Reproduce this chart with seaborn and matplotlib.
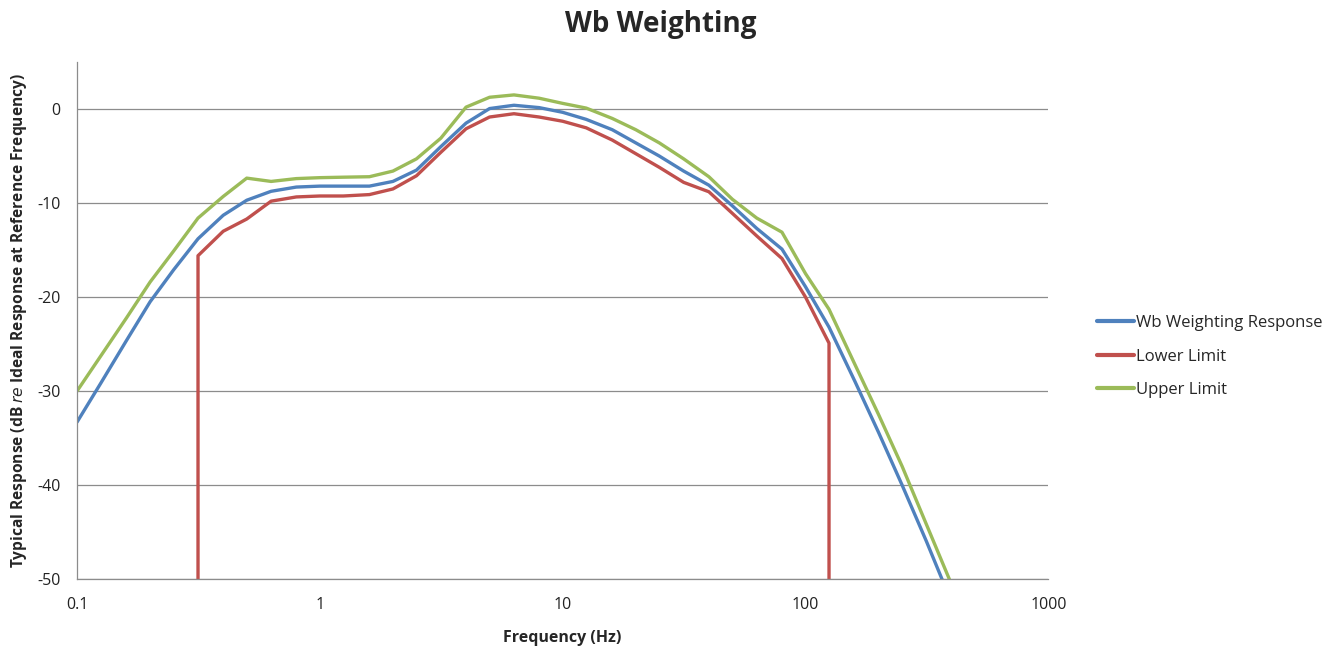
"""
Wb weighting: typical response with upper and lower tolerance limits.
Saves out.png (1344x650).
"""

import matplotlib
matplotlib.use("Agg")
import matplotlib.pyplot as plt
import numpy as np
import pandas as pd
import seaborn as sns

sns.set_theme(style="white")
plt.rcParams["font.family"] = ["Open Sans", "DejaVu Sans"]
plt.rcParams["axes.unicode_minus"] = False

# ---------------------------------------------------------------
# Data (1/3-octave band centre frequencies, dB re reference)
# ---------------------------------------------------------------
freq = [0.1, 0.125, 0.16, 0.2, 0.25, 0.315, 0.4, 0.5, 0.63, 0.8,
        1, 1.25, 1.6, 2, 2.5, 3.15, 4, 5, 6.3, 8,
        10, 12.5, 16, 20, 25, 31.5, 40, 50, 63, 80,
        100, 125, 160, 200, 250, 315, 400]

wb_response = [-33.3, -29.2, -24.6, -20.5, -17.1, -13.8, -11.3, -9.7, -8.75, -8.3,
               -8.2, -8.2, -8.2, -7.7, -6.5, -4.0, -1.5, 0.05, 0.4, 0.15,
               -0.35, -1.1, -2.2, -3.6, -5.0, -6.6, -8.1, -10.3, -12.7, -14.9,
               -18.9, -23.2, -29.0, -34.4, -40.0, -46.0, -52.5]

upper_limit = [-30.0, -26.3, -22.2, -18.4, -15.1, -11.6, -9.3, -7.35, -7.7, -7.4,
               -7.3, -7.25, -7.2, -6.6, -5.3, -3.1, 0.2, 1.25, 1.5, 1.15,
               0.6, 0.1, -1.0, -2.2, -3.6, -5.3, -7.2, -9.6, -11.6, -13.1,
               -17.5, -21.3, -27.2, -32.5, -38.0, -44.2, -50.6]

# lower limit only defined 0.315 - 125 Hz; drops off the chart at both ends
lower_freq = [0.315, 0.315, 0.4, 0.5, 0.63, 0.8,
              1, 1.25, 1.6, 2, 2.5, 3.15, 4, 5, 6.3, 8,
              10, 12.5, 16, 20, 25, 31.5, 40, 50, 63, 80,
              100, 125, 125]
lower_limit = [-100, -15.6, -13.0, -11.7, -9.8, -9.35,
               -9.25, -9.25, -9.1, -8.5, -7.1, -4.6, -2.1, -0.85, -0.5, -0.85,
               -1.3, -2.0, -3.3, -4.75, -6.2, -7.8, -8.8, -11.1, -13.5, -15.9,
               -20.0, -24.9, -100]

series = [
    ("Wb Weighting Response", freq, wb_response, "#4f81bd"),
    ("Lower Limit", lower_freq, lower_limit, "#c0504d"),
    ("Upper Limit", freq, upper_limit, "#9bbb59"),
]

# ---------------------------------------------------------------
# Plot
# ---------------------------------------------------------------
fig = plt.figure(figsize=(13.44, 6.5), dpi=100)
ax = fig.add_axes([0.0573, 0.109, 0.7227, 0.7956])

for name, x, y, color in series:
    df = pd.DataFrame({"Frequency": x, "Response": y})
    sns.lineplot(data=df, x="Frequency", y="Response", ax=ax, color=color,
                 linewidth=2.4, estimator=None, sort=False, label=name)

ax.set_xscale("log")
ax.set_xlim(0.1, 1000)
ax.set_ylim(-50, 5)
ax.set_xticks([0.1, 1, 10, 100, 1000])
ax.set_xticklabels(["0.1", "1", "10", "100", "1000"])
ax.xaxis.set_minor_locator(matplotlib.ticker.NullLocator())
ax.set_yticks([0, -10, -20, -30, -40, -50])

ax.grid(axis="y", color="#8c8c8c", linewidth=0.9)
ax.grid(axis="x", visible=False)
ax.set_axisbelow(True)
for side in ("top", "right"):
    ax.spines[side].set_visible(False)
for side in ("left", "bottom"):
    ax.spines[side].set_color("#8c8c8c")
    ax.spines[side].set_linewidth(0.9)
ax.tick_params(axis="both", which="major", direction="out", length=5,
               width=0.9, color="#8c8c8c", labelsize=11.5, labelcolor="#222222")
ax.tick_params(axis="x", pad=8)
ax.tick_params(axis="y", pad=7)

ax.set_xlabel("Frequency (Hz)", fontsize=11.5, fontweight="bold", labelpad=12)
ax.set_ylabel(r"Typical Response (dB $\it{re}$ Ideal Response at Reference Frequency)",
              fontsize=11.2, fontweight="bold")
ax.yaxis.set_label_coords(-0.049, 0.5)

fig.suptitle("Wb Weighting", fontsize=20, fontweight="bold", x=0.492, y=0.985)

leg = ax.legend(loc="center left", bbox_to_anchor=(1.035, 0.43), frameon=False,
                fontsize=12, handlelength=2.2, handletextpad=0.1,
                labelspacing=1.05)
for line in leg.get_lines():
    line.set_linewidth(3)

fig.savefig("out.png", dpi=100)
